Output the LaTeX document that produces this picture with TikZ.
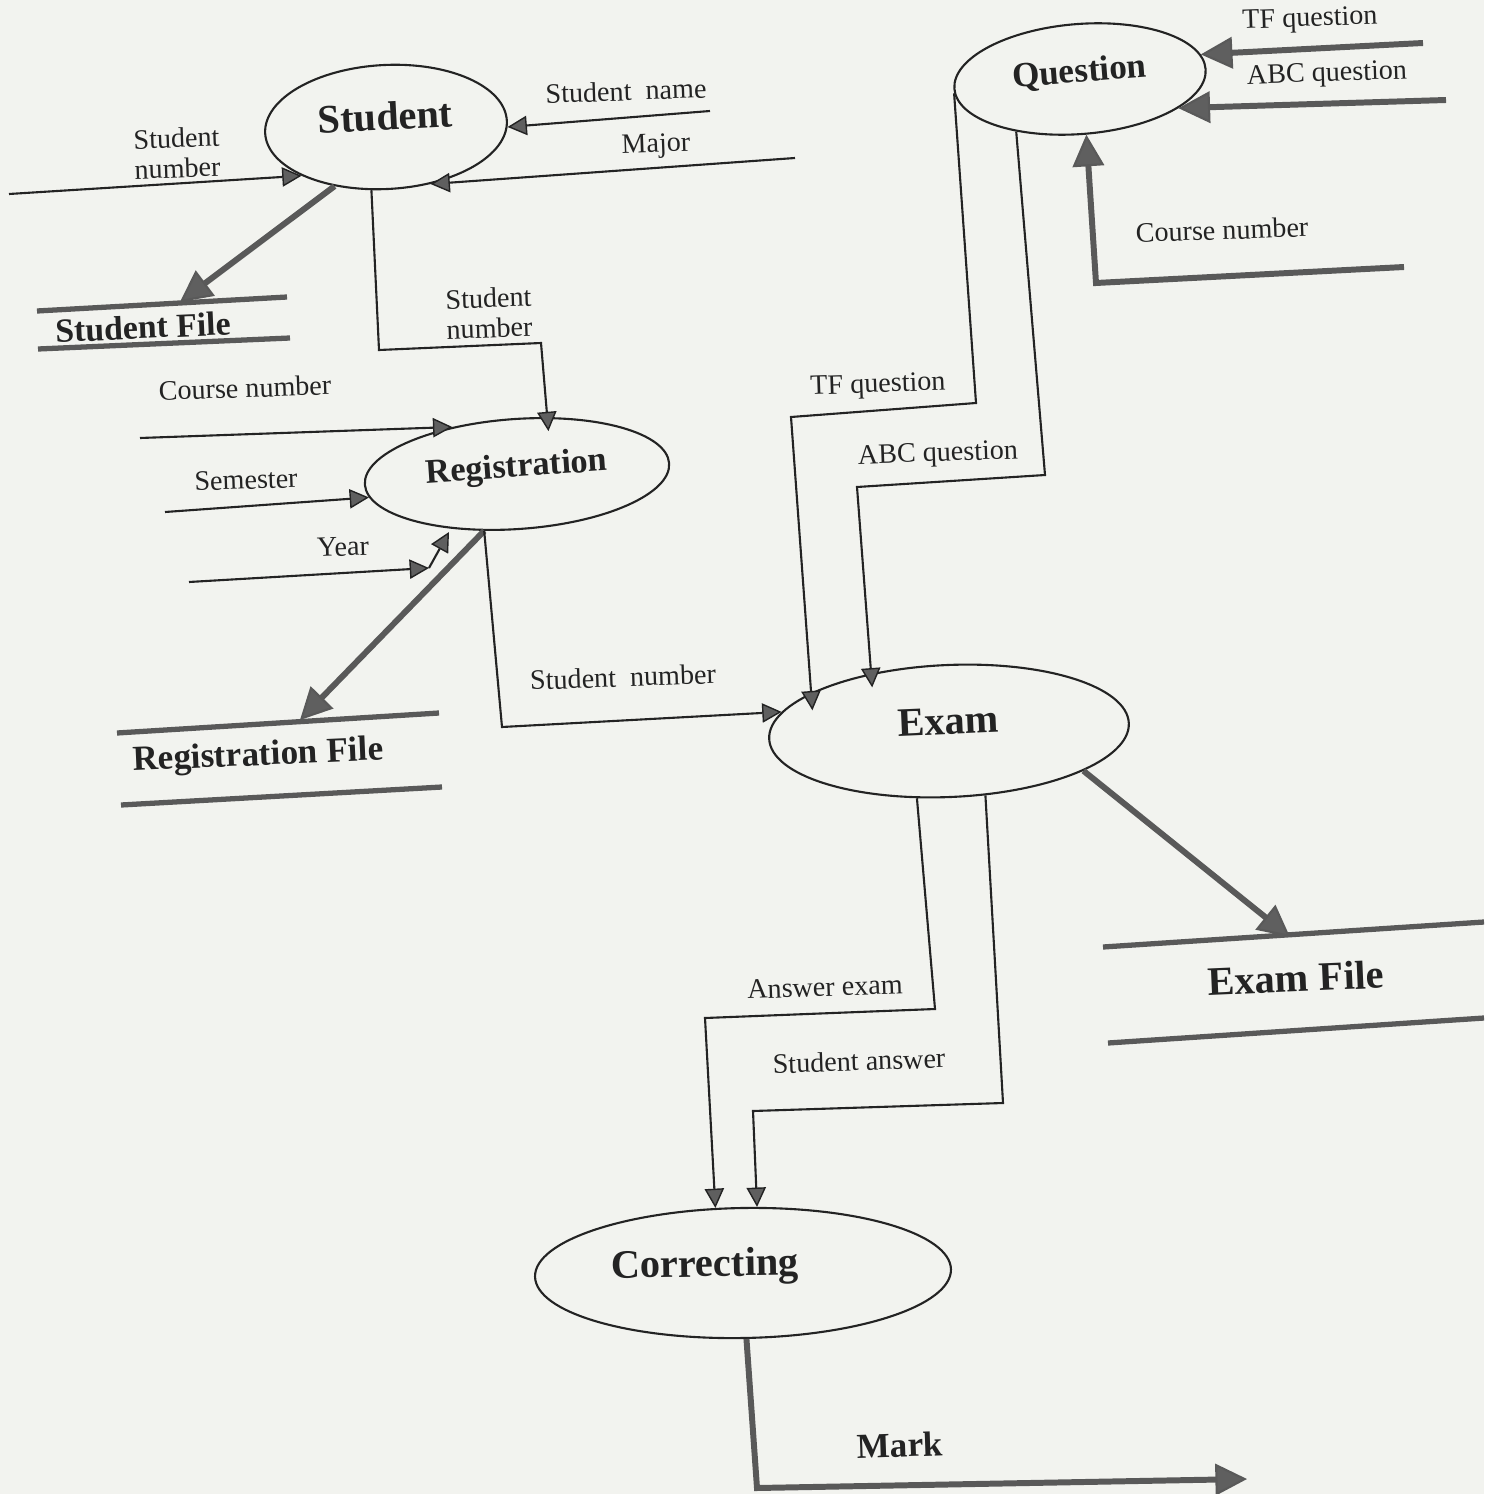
\documentclass[tikz,border=0pt]{standalone}
\usepackage{fontspec}
\setmainfont{Liberation Serif}
\usetikzlibrary{shapes.geometric,arrows.meta}
\definecolor{paper}{RGB}{242,243,239}
\definecolor{ink}{RGB}{35,35,35}
\definecolor{tipgray}{RGB}{95,95,95}

\tikzset{
  proc/.style={ellipse, draw=ink, line width=0.6pt, inner sep=0pt, text=ink,
    text height=2.6mm, text depth=2mm,
    font=\bfseries\fontsize{11.5}{13}\selectfont},
  lab/.style={font=\fontsize{8}{8.5}\selectfont, inner sep=0pt, align=center, text=ink, rotate=2},
  storelab/.style={font=\bfseries\fontsize{10}{12}\selectfont, inner sep=0pt, text=ink, rotate=2.5},
  flow/.style={draw=ink, line width=0.6pt,
    -{Triangle[length=5.5pt, width=5.5pt, fill=tipgray, line width=0.4pt]}},
  bigflow/.style={draw=black!65, line width=1.7pt,
    -{Triangle[length=9pt, width=9pt, fill=tipgray, line width=0.6pt]}},
  storeline/.style={draw=black!65, line width=1.5pt}
}

\begin{document}
\begin{tikzpicture}[x=0.1mm, y=-0.1mm]
  \fill[paper] (0,0) rectangle (1484,1494);
  \useasboundingbox (0,0) rectangle (1484,1494);

  % processes
  \node[proc, rotate=3, minimum width=24.2mm, minimum height=12.4mm] (stud) at (386,127) {Student};
  \node[proc, rotate=4.5, minimum width=25.2mm, minimum height=11mm,
    font=\bfseries\fontsize{10}{12}\selectfont] (quest) at (1080,79) {Question};
  \node[proc, rotate=4, minimum width=30.5mm, minimum height=11mm,
    font=\bfseries\fontsize{9.8}{12}\selectfont] (reg) at (517,474) {Registration};
  \node[proc, rotate=2.5, minimum width=36mm, minimum height=13.2mm] (exam) at (949,731) {Exam};
  \node[proc, rotate=1, minimum width=41.6mm, minimum height=13mm] (corr) at (743,1273) {Correcting\hspace*{7.6mm}};

  % data stores
  \draw[storeline] (37,311) -- (287,297);
  \draw[storeline] (38,349) -- (290,338);
  \node[storelab, font=\bfseries\fontsize{9.6}{12}\selectfont] (sfile) at (143,327) {Student File};
  \draw[storeline] (117,733) -- (439,713);
  \draw[storeline] (121,805) -- (442,787);
  \node[storelab] (rfile) at (258,757) {Registration File};
  \draw[storeline] (1103,947) -- (1484,922);
  \draw[storeline] (1108,1043) -- (1484,1018);
  \node[storelab, font=\bfseries\fontsize{11.5}{13}\selectfont] (efile) at (1296,978) {Exam File};

  % free ends and bends
  \coordinate (snumin) at (9,194);
  \coordinate (snamein) at (710,111);
  \coordinate (majin) at (795,158);
  \coordinate (sfin) at (180,302);
  \coordinate (sbend1) at (379,350);
  \coordinate (sbend2) at (541,343);
  \coordinate (cnumin) at (140,438);
  \coordinate (semin) at (165,512);
  \coordinate (yearin) at (189,582);
  \coordinate (yearmid) at (429,568);
  \coordinate (yearend) at (449,532);
  \coordinate (rfin) at (300,720);
  \coordinate (rbend) at (502,727);
  \coordinate (tfbend1) at (976,403);
  \coordinate (tfbend2) at (791,417);
  \coordinate (abcbend1) at (1045,475);
  \coordinate (abcbend2) at (857,487);
  \coordinate (tfin) at (1423,43);
  \coordinate (abcin) at (1446,100);
  \coordinate (qcnumin) at (1404,267);
  \coordinate (qbend) at (1096,283);
  \coordinate (efin) at (1290,937);
  \coordinate (ansbend1) at (935,1009);
  \coordinate (ansbend2) at (705,1018);
  \coordinate (sansbend1) at (1003,1103);
  \coordinate (sansbend2) at (753,1111);
  \coordinate (markbend) at (757,1488);
  \coordinate (markout) at (1247,1479);

  % flows
  \draw[flow] (snumin) -- (stud.207);
  \draw[flow] (snamein) -- (stud.-3);
  \draw[flow] (majin) -- (stud.-55);
  \draw[bigflow] (stud.226) -- (sfin);
  \draw[flow, shorten >=-4pt] (stud.254) -- (sbend1) -- (sbend2) -- (reg.58);
  \draw[flow] (cnumin) -- (reg.140);
  \draw[flow] (semin) -- (reg.185);
  \draw[flow] (yearin) -- (yearmid);
  \draw[flow] (yearmid) -- (yearend);
  \draw[bigflow] (reg.236) -- (rfin);
  \draw[flow] (reg.236) -- (rbend) -- (exam.171);
  \draw[flow, shorten >=-5pt] (quest.182) -- (tfbend1) -- (tfbend2) -- (exam.162);
  \draw[flow, shorten >=-4pt] (quest.215) -- (abcbend1) -- (abcbend2) -- (exam.141);
  \draw[bigflow] (tfin) -- (quest.7);
  \draw[bigflow] (abcin) -- (quest.-21);
  \draw[bigflow] (qcnumin) -- (qbend) -- (quest.-88);
  \draw[bigflow] (exam.-19) -- (efin);
  \draw[flow] (exam.242) -- (ansbend1) -- (ansbend2) -- (corr.112);
  \draw[flow] (exam.-63) -- (sansbend1) -- (sansbend2) -- (corr.77);
  \draw[bigflow] (corr.-88) -- (markbend) -- (markout);

  % labels
  \node[lab] (lsnum) at (177,153) {Student\\number};
  \node[lab] (lsname) at (626,91) {Student\ \ name};
  \node[lab] (lmajor) at (656,146) {Major};
  \node[lab] (lsnum2) at (489,313) {Student\\number};
  \node[lab] (lcnum) at (245,388) {Course number};
  \node[lab] (lsem) at (246,480) {Semester};
  \node[lab] (lyear) at (343,547) {Year};
  \node[lab] (lsnum3) at (623,677) {Student\ \ number};
  \node[lab] (ltf) at (878,386) {TF question};
  \node[lab] (labc) at (938,455) {ABC question};
  \node[lab] (ltf2) at (1310,20) {TF question};
  \node[lab] (labc2) at (1327,75) {ABC question};
  \node[lab] (lqcnum) at (1222,230) {Course number};
  \node[lab] (lans) at (825,987) {Answer exam};
  \node[lab] (lsans) at (859,1061) {Student answer};
  \node[lab, font=\bfseries\fontsize{10}{12}\selectfont] (lmark) at (900,1445) {Mark};
\end{tikzpicture}
\end{document}
